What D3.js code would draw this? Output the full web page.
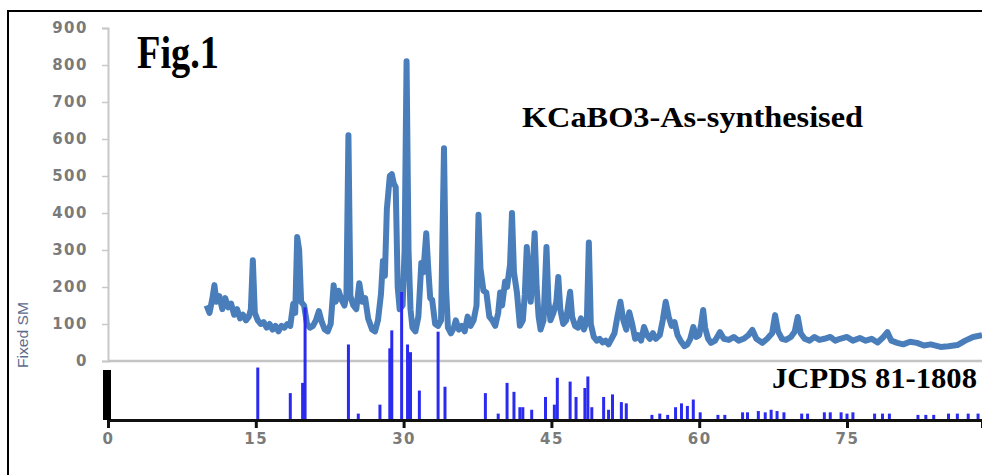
<!DOCTYPE html>
<html>
<head>
<meta charset="utf-8">
<script src="https://cdn.jsdelivr.net/npm/d3@7"></script>
<style>
  body { margin: 0; background: #fff; }
  svg { display: block; }
</style>
</head>
<body>
<svg></svg>
<script>
const twoTheta = [
  10.0, 10.3, 10.6, 10.8, 11.0, 11.3, 11.6, 11.9, 12.2, 12.5, 12.8, 13.1, 13.4, 13.7, 14.0, 14.3, 14.5, 14.7, 14.9,
  15.2, 15.5, 15.8, 16.1, 16.4, 16.7, 17.0, 17.3, 17.6, 17.9, 18.2, 18.5, 18.8, 19.0, 19.2, 19.4, 19.6, 19.9,
  20.2, 20.5, 20.8, 21.1, 21.4, 21.7, 22.0, 22.3, 22.6, 22.9, 23.1, 23.4, 23.7, 24.0, 24.2, 24.4, 24.6, 24.9,
  25.2, 25.5, 25.8, 26.1, 26.4, 26.8, 27.1, 27.4, 27.7, 27.9, 28.1, 28.3, 28.6, 28.8, 29.0, 29.2, 29.4, 29.6, 29.9,
  30.1, 30.3, 30.5, 30.7, 30.9, 31.2, 31.5, 31.8, 32.0, 32.3, 32.5, 32.7, 32.9, 33.2, 33.5, 33.8, 34.1, 34.3, 34.5, 34.8,
  35.1, 35.3, 35.6, 35.9, 36.2, 36.5, 36.8, 37.1, 37.4, 37.6, 37.8, 38.1, 38.4, 38.7, 39.0, 39.3, 39.6, 39.8,
  40.0, 40.3, 40.5, 40.8, 41.0, 41.2, 41.5, 41.8, 42.1, 42.3, 42.5, 42.7, 42.9, 43.1, 43.3, 43.5, 43.7, 43.9,
  44.2, 44.5, 44.7, 44.9, 45.2, 45.5, 45.7, 45.9, 46.2, 46.5, 46.7, 46.9, 47.1, 47.4, 47.7, 48.0, 48.3, 48.6, 48.8,
  49.0, 49.3, 49.6, 49.9, 50.2, 50.5, 50.8, 51.1, 51.4, 51.7, 52.0, 52.3, 52.6, 52.9, 53.2, 53.5, 53.8, 54.1, 54.4,
  54.7, 55.0, 55.3, 55.6, 56.0, 56.3, 56.6, 56.9, 57.2, 57.5, 57.8, 58.1, 58.5, 58.8, 59.1, 59.4, 59.7,
  60.0, 60.2, 60.4, 60.6, 60.9, 61.2, 61.6, 62.1, 62.5, 63.0, 63.5, 64.0, 64.5, 65.0, 65.4, 65.8, 66.4, 66.9,
  67.4, 67.7, 68.0, 68.4, 68.8, 69.3, 69.7, 70.0, 70.3, 70.7, 71.2, 71.7, 72.2, 72.7, 73.3, 73.8, 74.3,
  75.0, 75.6, 76.3, 76.9, 77.5, 78.1, 78.7, 79.1, 79.5, 80.1, 80.7, 81.4, 82.1, 82.8, 83.5, 84.5, 85.3,
  86.2, 87.0, 87.8, 88.7
];
const counts = [
  150, 130, 170, 205, 160, 175, 140, 170, 145, 155, 125, 140, 115, 125, 110, 120, 140, 272, 130,
  110, 100, 105, 90, 100, 85, 95, 80, 95, 90, 100, 95, 155, 130, 335, 300, 160, 150,
  100, 90, 95, 110, 135, 105, 85, 80, 100, 205, 160, 190, 165, 150, 180, 610, 175, 150,
  140, 210, 160, 170, 115, 85, 80, 110, 180, 270, 230, 410, 500, 505, 480, 470, 200, 140, 150,
  300, 810, 300, 140, 90, 80, 120, 265, 240, 345, 250, 170, 165, 100, 95, 110, 575, 200, 90, 75,
  90, 110, 85, 95, 80, 120, 95, 110, 150, 395, 250, 190, 185, 120, 110, 95, 130, 185,
  150, 215, 200, 260, 400, 240, 185, 95, 110, 180, 308, 220, 160, 250, 345, 200, 120, 85,
  110, 308, 160, 110, 130, 160, 227, 140, 100, 110, 150, 187, 120, 95, 90, 115, 85, 110, 320,
  100, 65, 55, 60, 50, 55, 45, 60, 75, 120, 160, 110, 85, 132, 100, 60, 70, 55, 92,
  70, 60, 75, 60, 70, 110, 160, 120, 95, 105, 70, 55, 40, 45, 60, 92, 65,
  70, 100, 138, 90, 60, 49, 55, 78, 60, 57, 65, 55, 60, 70, 84, 60, 49, 60,
  75, 124, 80, 60, 57, 65, 80, 119, 75, 60, 55, 65, 57, 60, 65, 55, 60,
  65, 55, 62, 55, 60, 50, 65, 78, 55, 49, 45, 52, 49, 42, 45, 38, 40,
  43, 55, 65, 70
];

// reference card lines (2-theta, relative intensity)
const refPos = [
  15.2, 18.5, 19.75, 20.0, 24.4, 25.4, 27.6, 28.6, 28.8, 29.8, 30.4, 30.7, 31.6, 33.5, 34.2,
  38.3, 39.6, 40.5, 41.2, 41.8, 42.1, 43.0, 44.4, 45.3, 45.6, 46.9, 47.5, 48.4, 48.7, 49.1,
  50.3, 50.8, 51.2, 52.1, 52.6, 55.2, 56.0, 56.8, 57.6, 58.2, 58.8, 59.4, 60.1,
  61.9, 62.6, 64.4, 64.9, 66.0, 66.7, 67.3, 67.9, 68.6, 70.4, 71.0, 72.7, 73.3,
  74.4, 75.0, 75.6, 77.8, 78.6, 79.3, 82.2, 83.0, 83.8, 85.3, 86.2, 87.3, 88.3
];
const refInt = [
  41, 21, 29, 88, 59, 5, 12, 56, 70, 100, 59, 53, 23, 69, 26,
  21, 5, 29, 22, 10, 10, 8, 18, 12, 33, 30, 18, 25, 34, 10,
  18, 8, 20, 14, 13, 4, 5, 4, 10, 13, 11, 16, 6,
  4, 4, 6, 6, 7, 6, 8, 7, 6, 5, 5, 6, 6,
  6, 5, 6, 5, 5, 5, 4, 4, 4, 5, 5, 5, 5
];

const yTicks = [0, 100, 200, 300, 400, 500, 600, 700, 800, 900];
const xTicks = [0, 15, 30, 45, 60, 75];

const width = 982, height = 475;

const x = d3.scaleLinear().domain([0, 88.7]).range([108, 982]);
const y = d3.scaleLinear().domain([0, 900]).range([361, 28]);
const yRef = d3.scaleLinear().domain([0, 100]).range([420, 292]);

const svg = d3.select('svg')
  .attr('width', width)
  .attr('height', height);

// frame
svg.append('path')
  .attr('d', `M8,${height} V11 H${width}`)
  .attr('fill', 'none')
  .attr('stroke', '#000')
  .attr('stroke-width', 2);

// y axis (measured)
const yAxis = svg.append('g')
  .attr('transform', 'translate(108,0)')
  .call(d3.axisLeft(y).tickValues(yTicks).tickSize(6).tickPadding(14));
yAxis.select('.domain').attr('stroke', '#c8c8c8').attr('stroke-width', 2);
yAxis.selectAll('.tick line').attr('stroke', '#c8c8c8').attr('stroke-width', 1.5);
yAxis.selectAll('.tick text')
  .attr('fill', '#7a7a7a')
  .attr('font-family', 'DejaVu Sans')
  .attr('font-weight', 'bold')
  .attr('font-size', 15)
  .attr('letter-spacing', 1.5);

// zero line
svg.append('line')
  .attr('x1', x(0)).attr('x2', width)
  .attr('y1', y(0)).attr('y2', y(0))
  .attr('stroke', '#c4c4c4')
  .attr('stroke-width', 2.5);

// measured pattern
const pts = twoTheta.map((t, i) => [t, counts[i]]);
svg.append('path')
  .datum(pts)
  .attr('fill', 'none')
  .attr('stroke', '#4a7ebb')
  .attr('stroke-width', 6)
  .attr('stroke-linejoin', 'round')
  .attr('d', d3.line().x(d => x(d[0])).y(d => y(d[1])));

// reference sticks, drawn over the pattern
svg.append('g')
  .selectAll('line')
  .data(refPos)
  .join('line')
  .attr('x1', d => x(d)).attr('x2', d => x(d))
  .attr('y1', yRef(0))
  .attr('y2', (d, i) => yRef(refInt[i]))
  .attr('stroke', '#2b2bf0')
  .attr('stroke-width', 3);

// bottom axis
const xAxis = svg.append('g')
  .attr('transform', `translate(0,${yRef(0)})`)
  .call(d3.axisBottom(x).tickValues(xTicks).tickSize(8).tickPadding(5));
xAxis.select('.domain').attr('stroke', '#111').attr('stroke-width', 3);
xAxis.selectAll('.tick line').attr('stroke', '#111').attr('stroke-width', 3);
xAxis.selectAll('.tick text')
  .attr('fill', '#7a7a7a')
  .attr('font-family', 'DejaVu Sans')
  .attr('font-weight', 'bold')
  .attr('font-size', 15)
  .attr('letter-spacing', 1.5);

// black bar at the origin of the card panel
svg.append('rect')
  .attr('x', x(0) - 5).attr('width', 8)
  .attr('y', 370).attr('height', yRef(0) - 370)
  .attr('fill', '#000');

// labels
svg.append('text')
  .attr('x', 137).attr('y', 68)
  .attr('font-family', 'Liberation Serif')
  .attr('font-weight', 'bold')
  .attr('font-size', 46)
  .attr('textLength', 82)
  .attr('lengthAdjust', 'spacingAndGlyphs')
  .text('Fig.1');

svg.append('text')
  .attr('x', 522).attr('y', 127)
  .attr('font-family', 'Liberation Serif')
  .attr('font-weight', 'bold')
  .attr('font-size', 29)
  .attr('textLength', 341)
  .attr('lengthAdjust', 'spacingAndGlyphs')
  .text('KCaBO3-As-synthesised');

svg.append('text')
  .attr('x', 772).attr('y', 388)
  .attr('font-family', 'Liberation Serif')
  .attr('font-weight', 'bold')
  .attr('font-size', 29)
  .attr('textLength', 205)
  .attr('lengthAdjust', 'spacingAndGlyphs')
  .text('JCPDS 81-1808');

svg.append('text')
  .attr('transform', 'translate(28,368) rotate(-90)')
  .attr('fill', '#5d6b8c')
  .attr('font-family', 'Liberation Sans')
  .attr('font-size', 14)
  .attr('textLength', 66)
  .attr('lengthAdjust', 'spacingAndGlyphs')
  .text('Fixed SM');
</script>
</body>
</html>
